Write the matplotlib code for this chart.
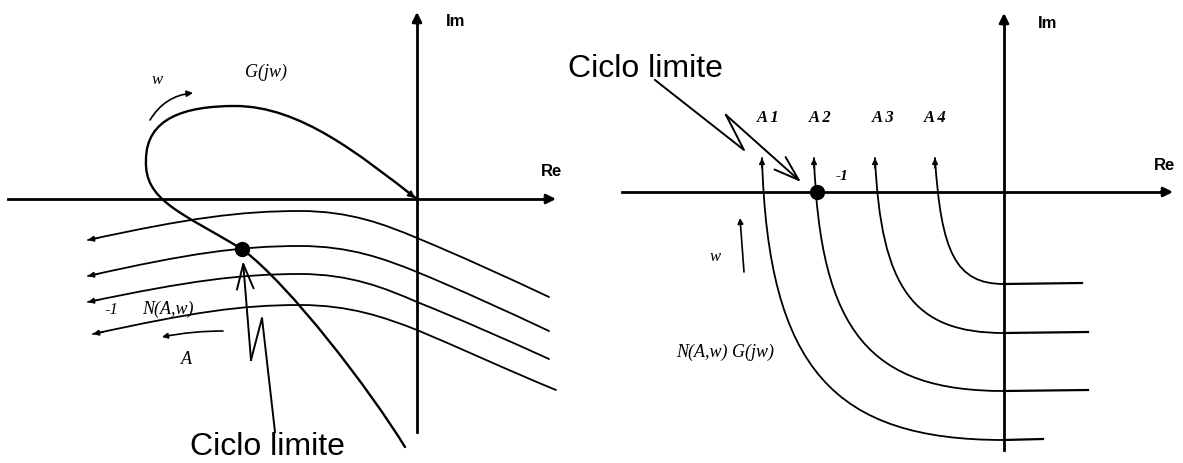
import matplotlib.pyplot as plt
from matplotlib.path import Path
from matplotlib.patches import PathPatch

W, H = 1183, 463

# ---- left diagram: G(jw) against the -1/N(A,w) family (pixel coords, y down)
left_origin = (417, 199)
left_xaxis = (8, 556)
left_yaxis = (432, 12)

# G(jw) locus as cubic bezier vertices, tail -> origin
g_verts = [(405, 447), (370, 390), (290, 285), (242, 249),
           (180, 212), (144, 200), (146, 160),
           (146, 118), (185, 106), (235, 106),
           (300, 106), (360, 155), (417, 199)]

# -1/N(A,w) curves
n_left_x = [88, 88, 88, 93]
n_left_y = [240, 276, 302, 334]
n_peak_y = [211, 246, 274, 305]
n_axis_y = [238, 272, 302, 330]
n_end_x = [549, 549, 549, 556]
n_end_y = [297, 331, 359, 390]
left_cycle = (242, 249)

# ---- right diagram: N(A,w) G(jw) for several amplitudes
right_origin = (1004, 192)
right_xaxis = (622, 1173)
right_yaxis = (450, 13)
a_labels = ['A 1', 'A 2', 'A 3', 'A 4']
a_label_x = [768, 820, 883, 935]
a_x = [762, 814, 875, 935]
a_tip_y = 158
a_bottom_y = [440, 391, 333, 284]
a_end_x = [1043, 1088, 1088, 1082]
right_cycle = (817, 192)

fig = plt.figure(figsize=(W / 100, H / 100), dpi=100)
ax = fig.add_axes([0, 0, 1, 1])
ax.set_xlim(0, W)
ax.set_ylim(H, 0)
ax.axis('off')

serif = dict(family='Liberation Serif', style='italic', color='k')
sans_b = dict(family='Liberation Sans', weight='bold', color='k', fontsize=12)


def bezier(verts, lw):
    codes = [Path.MOVETO] + [Path.CURVE4] * (len(verts) - 1)
    ax.add_patch(PathPatch(Path(verts, codes), fc='none', ec='k', lw=lw,
                           capstyle='round', joinstyle='round'))


def head(p_from, p_to, scale=9, style='-|>', lw=1.2):
    ax.annotate('', xy=p_to, xytext=p_from,
                arrowprops=dict(arrowstyle=style, color='k', lw=lw,
                                mutation_scale=scale, shrinkA=0, shrinkB=0))


def axes_cross(origin, xr, yr):
    ox, oy = origin
    ax.plot([xr[0], xr[1] - 6], [oy, oy], color='k', lw=2.0)
    ax.plot([ox, ox], [yr[0], yr[1] + 6], color='k', lw=2.0)
    head((xr[1] - 12, oy), (xr[1], oy), scale=14, lw=2.0)
    head((ox, yr[1] + 12), (ox, yr[1]), scale=14, lw=2.0)


# left panel
axes_cross(left_origin, left_xaxis, left_yaxis)
ax.text(456, 22, 'Im', ha='center', va='center', **sans_b)
ax.text(552, 172, 'Re', ha='center', va='center', **sans_b)

bezier(g_verts, 1.7)
head((405, 190), (415, 198), scale=10)
ax.text(266, 72, 'G(jw)', ha='center', va='center', fontsize=13, **serif)
ax.text(157, 80, 'w', ha='center', va='center', fontsize=12, **serif)
ax.annotate('', xy=(193, 93), xytext=(150, 120),
            arrowprops=dict(arrowstyle='-|>', color='k', lw=1.2, mutation_scale=9,
                            shrinkA=0, shrinkB=0, connectionstyle='arc3,rad=-0.25'))

for lx, ly, py, ay, ex, ey in zip(n_left_x, n_left_y, n_peak_y, n_axis_y, n_end_x, n_end_y):
    verts = [(lx, ly), (lx + 100, ly - 0.75 * (ly - py)), (240, py), (300, py),
             (350, py), (385, py + 0.5 * (ay - py)), (417, ay),
             (460, ay + 0.3 * (ey - ay)), (505, ay + 0.65 * (ey - ay)), (ex, ey)]
    bezier(verts, 1.3)
    head((lx + 10, ly - 2), (lx, ly), scale=8)

ax.plot(*left_cycle, 'o', color='k', ms=10)
ax.text(111, 310, '-1', ha='center', va='center', fontsize=12, **serif)
ax.text(168, 309, 'N(A,w)', ha='center', va='center', fontsize=13, **serif)
ax.annotate('', xy=(162, 337), xytext=(223, 331),
            arrowprops=dict(arrowstyle='-|>', color='k', lw=1.2, mutation_scale=8,
                            shrinkA=0, shrinkB=0, connectionstyle='arc3,rad=0.05'))
ax.text(186, 360, 'A', ha='center', va='center', fontsize=13, **serif)

# limit cycle pointer (left)
ax.plot([275, 262, 251], [432, 318, 360], color='k', lw=1.4)
head((251, 360), (243, 261), style='->, head_length=0.9, head_width=0.3', scale=20, lw=1.4)
ax.text(267, 455, 'Ciclo limite', ha='center', va='baseline', fontsize=23,
        family='Liberation Sans', color='k')

# right panel
axes_cross(right_origin, right_xaxis, right_yaxis)
ax.text(1048, 23, 'Im', ha='center', va='center', **sans_b)
ax.text(1165, 165, 'Re', ha='center', va='center', **sans_b)

for lab, lxp, x0, yb, ex in zip(a_labels, a_label_x, a_x, a_bottom_y, a_end_x):
    ox = right_origin[0]
    verts = [(x0, a_tip_y), (x0 + 6, a_tip_y + 0.75 * (yb - a_tip_y)),
             (x0 + 0.3 * (ox - x0), yb), (ox, yb)]
    bezier(verts, 1.3)
    ax.plot([ox, ex], [yb, yb - 1], color='k', lw=1.6)
    head((x0, a_tip_y + 10), (x0, a_tip_y), scale=8)
    ax.text(lxp, 118, lab, ha='center', va='center', fontsize=12, weight='bold', **serif)

ax.plot(*right_cycle, 'o', color='k', ms=10)
ax.text(842, 177, '-1', ha='center', va='center', fontsize=11, weight='bold', **serif)
ax.text(715, 257, 'w', ha='center', va='center', fontsize=12, **serif)
head((744, 272), (740, 218), scale=8)
ax.text(725, 352, 'N(A,w) G(jw)', ha='center', va='center', fontsize=13, **serif)

# limit cycle pointer (right)
ax.plot([655, 744, 726], [80, 150, 115], color='k', lw=1.4)
head((726, 115), (801, 182), style='->, head_length=0.9, head_width=0.3', scale=20, lw=1.4)
ax.text(645, 77, 'Ciclo limite', ha='center', va='baseline', fontsize=23,
        family='Liberation Sans', color='k')

fig.savefig('out.png', dpi=100)
